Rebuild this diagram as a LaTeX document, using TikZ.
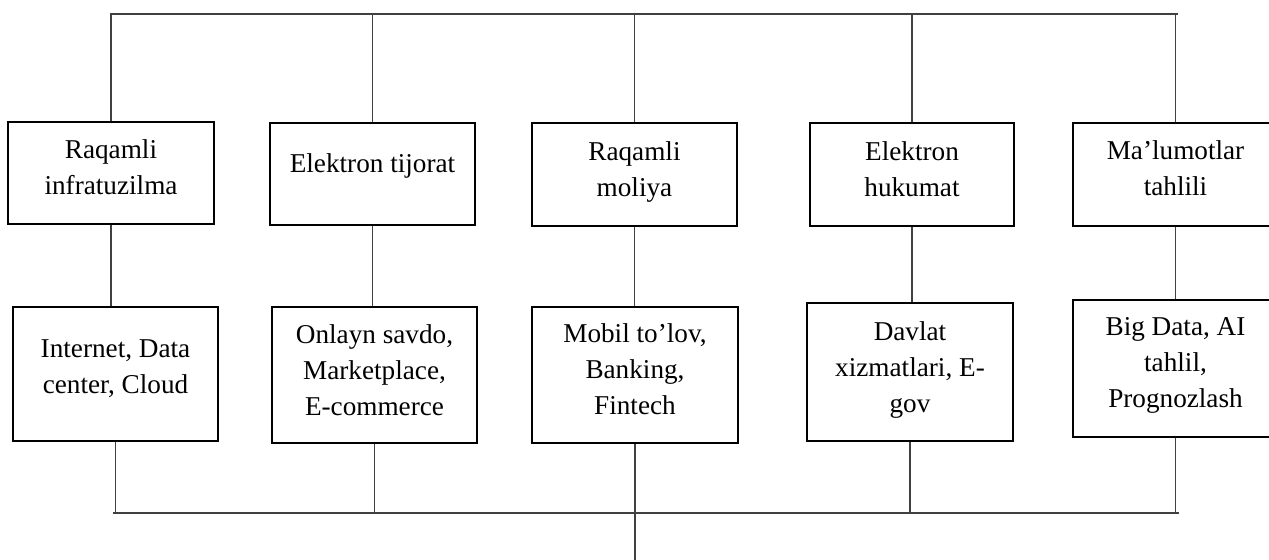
\documentclass[tikz,border=0pt]{standalone}
\usepackage{fontspec}
\setmainfont{Liberation Serif}
\begin{document}
\begin{tikzpicture}[x=0.5pt,y=-0.5pt,
  box/.style={draw, line width=1pt, inner sep=0pt},
  lbl/.style={anchor=north, align=center, inner sep=0pt, font=\fontsize{13.6}{18}\selectfont},
  conn/.style={line width=0.6pt, black!75}]
\useasboundingbox (0,0) rectangle (1269,560);
% row 1 boxes
\node[box, minimum width=103pt, minimum height=51pt] (b1) at (111,173) {};
\node[box, minimum width=102.5pt, minimum height=51pt] (b2) at (372.5,174) {};
\node[box, minimum width=102.5pt, minimum height=51.5pt] (b3) at (634.5,174.5) {};
\node[box, minimum width=102pt, minimum height=51.5pt] (b4) at (912,174.5) {};
\node[box, minimum width=102.5pt, minimum height=51.5pt] (b5) at (1175.5,174.5) {};
% row 2 boxes
\node[box, minimum width=102.5pt, minimum height=67pt] (c1) at (115.5,374) {};
\node[box, minimum width=102.5pt, minimum height=68pt] (c2) at (374.5,375) {};
\node[box, minimum width=103pt, minimum height=68pt] (c3) at (635,375) {};
\node[box, minimum width=103pt, minimum height=69pt] (c4) at (910,372) {};
\node[box, minimum width=102.5pt, minimum height=68.5pt] (c5) at (1175.5,368.5) {};
% labels
\node[lbl] (b1t) at (111,139) {Raqamli\\infratuzilma};
\node[lbl] (b2t) at (372.5,153) {Elektron tijorat};
\node[lbl] (b3t) at (634.5,141) {Raqamli\\moliya};
\node[lbl] (b4t) at (912,141) {Elektron\\hukumat};
\node[lbl] (b5t) at (1175.5,140) {Ma’lumotlar\\tahlili};
\node[lbl] (c1t) at (115.5,339) {Internet, Data\\center, Cloud};
\node[lbl] (c2t) at (374.5,324) {Onlayn savdo,\\Marketplace,\\E-commerce};
\node[lbl] (c3t) at (635,323) {Mobil to’lov,\\Banking,\\Fintech};
\node[lbl] (c4t) at (910,321) {Davlat\\xizmatlari, E-\\gov};
\node[lbl] (c5t) at (1175.5,317) {Big Data, AI\\tahlil,\\Prognozlash};
% connectors
\coordinate (tl) at (110,14);
\coordinate (tr) at (1178,14);
\coordinate (bl) at (113,513);
\coordinate (br) at (1179,513);
\coordinate (out) at (633,560);
\draw[conn] (tl) -- (tr);
\draw[conn] (bl) -- (br);
\foreach \i in {1,...,5}{
  \draw[conn] (b\i.north) -- (b\i.north |- tl);
  \draw[conn] (b\i.south) -- (b\i.south |- c\i.north);
  \draw[conn] (c\i.south) -- (c\i.south |- bl);
}
\draw[conn] (c3.south) -- (c3.south |- out);
\end{tikzpicture}
\end{document}
